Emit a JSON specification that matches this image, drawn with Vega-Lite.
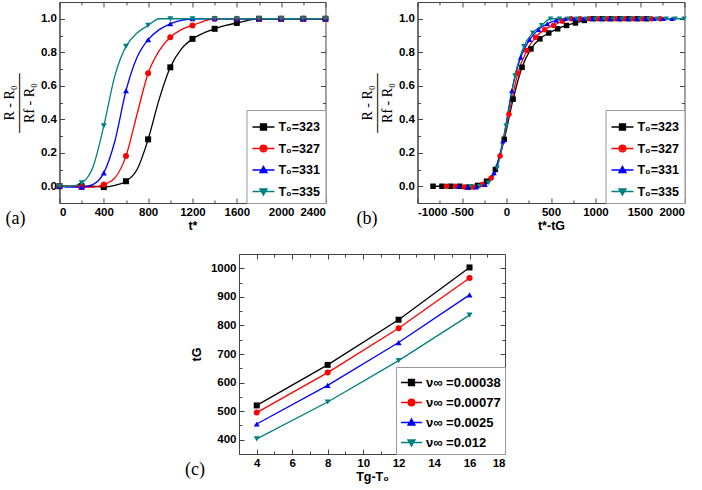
{
  "$schema": "https://vega.github.io/schema/vega-lite/v6.json",
  "padding": {"top": 1, "left": 1, "right": 0, "bottom": 0},
  "datasets": {
    "curves": [
      {"T0": 323, "t": 0, "r": 0, "tt": -825},
      {"T0": 323, "t": 100, "r": 0, "tt": -725},
      {"T0": 323, "t": 200, "r": 0, "tt": -625},
      {"T0": 323, "t": 300, "r": 0, "tt": -525},
      {"T0": 323, "t": 400, "r": -0.005, "tt": -425},
      {"T0": 323, "t": 500, "r": 0.005, "tt": -325},
      {"T0": 323, "t": 600, "r": 0.03, "tt": -225},
      {"T0": 323, "t": 700, "r": 0.1, "tt": -125},
      {"T0": 323, "t": 800, "r": 0.28, "tt": -25},
      {"T0": 323, "t": 900, "r": 0.52, "tt": 75},
      {"T0": 323, "t": 1000, "r": 0.71, "tt": 175},
      {"T0": 323, "t": 1100, "r": 0.82, "tt": 275},
      {"T0": 323, "t": 1200, "r": 0.88, "tt": 375},
      {"T0": 323, "t": 1300, "r": 0.915, "tt": 475},
      {"T0": 323, "t": 1400, "r": 0.94, "tt": 575},
      {"T0": 323, "t": 1500, "r": 0.96, "tt": 675},
      {"T0": 323, "t": 1600, "r": 0.975, "tt": 775},
      {"T0": 323, "t": 1700, "r": 0.99, "tt": 875},
      {"T0": 323, "t": 1800, "r": 1.0, "tt": 975},
      {"T0": 323, "t": 1900, "r": 1.0, "tt": 1075},
      {"T0": 323, "t": 2000, "r": 1.0, "tt": 1175},
      {"T0": 323, "t": 2100, "r": 1.0, "tt": 1275},
      {"T0": 323, "t": 2200, "r": 1.0, "tt": 1375},
      {"T0": 323, "t": 2300, "r": 1.0, "tt": 1475},
      {"T0": 323, "t": 2400, "r": 1.0, "tt": 1575},
      {"T0": 327, "t": 0, "r": 0, "tt": -672},
      {"T0": 327, "t": 100, "r": 0, "tt": -572},
      {"T0": 327, "t": 200, "r": -0.005, "tt": -472},
      {"T0": 327, "t": 300, "r": -0.005, "tt": -372},
      {"T0": 327, "t": 400, "r": 0.01, "tt": -272},
      {"T0": 327, "t": 500, "r": 0.05, "tt": -172},
      {"T0": 327, "t": 600, "r": 0.18, "tt": -72},
      {"T0": 327, "t": 700, "r": 0.43, "tt": 28},
      {"T0": 327, "t": 800, "r": 0.675, "tt": 128},
      {"T0": 327, "t": 900, "r": 0.81, "tt": 228},
      {"T0": 327, "t": 1000, "r": 0.89, "tt": 328},
      {"T0": 327, "t": 1100, "r": 0.935, "tt": 428},
      {"T0": 327, "t": 1200, "r": 0.96, "tt": 528},
      {"T0": 327, "t": 1300, "r": 0.985, "tt": 628},
      {"T0": 327, "t": 1400, "r": 1.0, "tt": 728},
      {"T0": 327, "t": 1500, "r": 1.0, "tt": 828},
      {"T0": 327, "t": 1600, "r": 1.0, "tt": 928},
      {"T0": 327, "t": 1700, "r": 1.0, "tt": 1028},
      {"T0": 327, "t": 1800, "r": 1.0, "tt": 1128},
      {"T0": 327, "t": 1900, "r": 1.0, "tt": 1228},
      {"T0": 327, "t": 2000, "r": 1.0, "tt": 1328},
      {"T0": 327, "t": 2100, "r": 1.0, "tt": 1428},
      {"T0": 327, "t": 2200, "r": 1.0, "tt": 1528},
      {"T0": 327, "t": 2300, "r": 1.0, "tt": 1628},
      {"T0": 327, "t": 2400, "r": 1.0, "tt": 1728},
      {"T0": 331, "t": 0, "r": 0, "tt": -540},
      {"T0": 331, "t": 100, "r": -0.005, "tt": -440},
      {"T0": 331, "t": 200, "r": -0.005, "tt": -340},
      {"T0": 331, "t": 300, "r": 0.01, "tt": -240},
      {"T0": 331, "t": 400, "r": 0.08, "tt": -140},
      {"T0": 331, "t": 500, "r": 0.27, "tt": -40},
      {"T0": 331, "t": 600, "r": 0.57, "tt": 60},
      {"T0": 331, "t": 700, "r": 0.77, "tt": 160},
      {"T0": 331, "t": 800, "r": 0.875, "tt": 260},
      {"T0": 331, "t": 900, "r": 0.935, "tt": 360},
      {"T0": 331, "t": 1000, "r": 0.97, "tt": 460},
      {"T0": 331, "t": 1100, "r": 0.99, "tt": 560},
      {"T0": 331, "t": 1200, "r": 1.0, "tt": 660},
      {"T0": 331, "t": 1300, "r": 1.0, "tt": 760},
      {"T0": 331, "t": 1400, "r": 1.0, "tt": 860},
      {"T0": 331, "t": 1500, "r": 1.0, "tt": 960},
      {"T0": 331, "t": 1600, "r": 1.0, "tt": 1060},
      {"T0": 331, "t": 1700, "r": 1.0, "tt": 1160},
      {"T0": 331, "t": 1800, "r": 1.0, "tt": 1260},
      {"T0": 331, "t": 1900, "r": 1.0, "tt": 1360},
      {"T0": 331, "t": 2000, "r": 1.0, "tt": 1460},
      {"T0": 331, "t": 2100, "r": 1.0, "tt": 1560},
      {"T0": 331, "t": 2200, "r": 1.0, "tt": 1660},
      {"T0": 331, "t": 2300, "r": 1.0, "tt": 1760},
      {"T0": 331, "t": 2400, "r": 1.0, "tt": 1860},
      {"T0": 335, "t": 0, "r": 0, "tt": -405},
      {"T0": 335, "t": 100, "r": 0, "tt": -305},
      {"T0": 335, "t": 200, "r": 0.02, "tt": -205},
      {"T0": 335, "t": 300, "r": 0.11, "tt": -105},
      {"T0": 335, "t": 400, "r": 0.36, "tt": -5},
      {"T0": 335, "t": 500, "r": 0.66, "tt": 95},
      {"T0": 335, "t": 600, "r": 0.835, "tt": 195},
      {"T0": 335, "t": 700, "r": 0.915, "tt": 295},
      {"T0": 335, "t": 800, "r": 0.96, "tt": 395},
      {"T0": 335, "t": 900, "r": 1.0, "tt": 495},
      {"T0": 335, "t": 1000, "r": 1.0, "tt": 595},
      {"T0": 335, "t": 1100, "r": 1.0, "tt": 695},
      {"T0": 335, "t": 1200, "r": 1.0, "tt": 795},
      {"T0": 335, "t": 1300, "r": 1.0, "tt": 895},
      {"T0": 335, "t": 1400, "r": 1.0, "tt": 995},
      {"T0": 335, "t": 1500, "r": 1.0, "tt": 1095},
      {"T0": 335, "t": 1600, "r": 1.0, "tt": 1195},
      {"T0": 335, "t": 1700, "r": 1.0, "tt": 1295},
      {"T0": 335, "t": 1800, "r": 1.0, "tt": 1395},
      {"T0": 335, "t": 1900, "r": 1.0, "tt": 1495},
      {"T0": 335, "t": 2000, "r": 1.0, "tt": 1595},
      {"T0": 335, "t": 2100, "r": 1.0, "tt": 1695},
      {"T0": 335, "t": 2200, "r": 1.0, "tt": 1795},
      {"T0": 335, "t": 2300, "r": 1.0, "tt": 1895},
      {"T0": 335, "t": 2400, "r": 1.0, "tt": 1995}
    ],
    "tg": [
      {"nu": "0.00038", "dT": 4, "tG": 520},
      {"nu": "0.00038", "dT": 8, "tG": 662},
      {"nu": "0.00038", "dT": 12, "tG": 820},
      {"nu": "0.00038", "dT": 16, "tG": 1003},
      {"nu": "0.00077", "dT": 4, "tG": 495},
      {"nu": "0.00077", "dT": 8, "tG": 635},
      {"nu": "0.00077", "dT": 12, "tG": 790},
      {"nu": "0.00077", "dT": 16, "tG": 966},
      {"nu": "0.0025", "dT": 4, "tG": 455},
      {"nu": "0.0025", "dT": 8, "tG": 590},
      {"nu": "0.0025", "dT": 12, "tG": 740},
      {"nu": "0.0025", "dT": 16, "tG": 907},
      {"nu": "0.012", "dT": 4, "tG": 403},
      {"nu": "0.012", "dT": 8, "tG": 532},
      {"nu": "0.012", "dT": 12, "tG": 677},
      {"nu": "0.012", "dT": 16, "tG": 836}
    ]
  },
  "center": true,
  "spacing": 20,
  "vconcat": [
    {
      "spacing": 18,
      "hconcat": [
        {
          "width": 266,
          "height": 201,
          "title": {"text": "(a)", "orient": "bottom", "anchor": "start", "frame": "group", "font": "Liberation Serif", "fontSize": 18, "fontWeight": "normal", "dx": -54, "dy": -26},
          "data": {"name": "curves"},
          "layer": [
            {
              "mark": {"type": "line", "interpolate": "monotone", "strokeWidth": 1.3},
              "encoding": {
                "x": {"field": "t", "type": "quantitative", "scale": {"domain": [0, 2400], "nice": false, "zero": false},
                  "axis": {"title": "t*", "values": [0, 200, 400, 600, 800, 1000, 1200, 1400, 1600, 1800, 2000, 2200, 2400], "labelExpr": "datum.value % 400 === 0 ? toString(datum.value) : ''", "tickSize": {"condition": {"test": "datum.value % 400 === 0", "value": -5}, "value": -3}, "titlePadding": 2}},
                "y": {"field": "r", "type": "quantitative", "scale": {"domain": [-0.1, 1.1], "nice": false, "zero": false},
                  "axis": {"title": ["R - R₀", "──────", "Rf - R₀"], "values": [0, 0.1, 0.2, 0.3, 0.4, 0.5, 0.6, 0.7, 0.8, 0.9, 1], "labelExpr": "round(datum.value*10) % 2 === 0 ? format(datum.value, '.1f') : ''", "tickSize": {"condition": {"test": "round(datum.value*10) % 2 === 0", "value": -5}, "value": -3}, "titleFont": "Liberation Serif", "titleFontWeight": "normal", "titleFontSize": 14, "titleLineHeight": 10, "titlePadding": 4}},
                "color": {"field": "T0", "type": "nominal", "scale": {"domain": [323, 327, 331, 335], "range": ["#000000", "#ff0000", "#0000ff", "#008080"]}, "legend": null}
              }
            },
            {
              "transform": [{"filter": "datum.t % 200 === 0"}],
              "mark": {"type": "point", "filled": true, "opacity": 1, "size": 36},
              "encoding": {
                "x": {"field": "t", "type": "quantitative", "axis": {"orient": "top", "title": null, "labels": false, "domain": false, "values": [0, 200, 400, 600, 800, 1000, 1200, 1400, 1600, 1800, 2000, 2200, 2400], "tickSize": {"condition": {"test": "datum.value % 400 === 0", "value": -5}, "value": -3}}},
                "y": {"field": "r", "type": "quantitative", "axis": {"orient": "right", "title": null, "labels": false, "domain": false, "values": [0, 0.1, 0.2, 0.3, 0.4, 0.5, 0.6, 0.7, 0.8, 0.9, 1], "tickSize": {"condition": {"test": "round(datum.value*10) % 2 === 0", "value": -5}, "value": -3}}},
                "color": {"field": "T0", "type": "nominal", "scale": {"domain": [323, 327, 331, 335], "range": ["#000000", "#ff0000", "#0000ff", "#008080"]}, "legend": null},
                "shape": {"field": "T0", "type": "nominal", "scale": {"domain": [323, 327, 331, 335], "range": ["square", "circle", "triangle-up", "triangle-down"]}, "legend": null}
              }
            },
            {
              "mark": {"type": "point", "filled": false, "opacity": 0, "size": 484},
              "encoding": {
                "x": {"field": "t", "type": "quantitative", "axis": null},
                "y": {"field": "r", "type": "quantitative", "axis": null},
                "color": {"field": "T0", "type": "nominal", "scale": {"domain": [323, 327, 331, 335], "range": ["#000000", "#ff0000", "#0000ff", "#008080"]}, "legend": {"title": null, "orient": "bottom-right", "offset": 0, "padding": 5, "rowPadding": 2.5, "labelFont": "Liberation Sans", "labelFontWeight": "bold", "labelFontSize": 12.5, "labelExpr": "'T₀=' + datum.label", "symbolSize": 484, "symbolStrokeWidth": 1.4, "labelOffset": 3, "strokeColor": "#999", "fillColor": "#ffffff"}},
                "shape": {"field": "T0", "type": "nominal", "scale": {"domain": [323, 327, 331, 335], "range": ["M-1,0H1M-0.27,-0.27H0.27V0.27H-0.27ZM-0.27,-0.14H0.27M-0.27,0.14H0.27", "M-1,0H1M0.3,0A0.3,0.3,0,1,1,-0.3,0A0.3,0.3,0,1,1,0.3,0ZM0.17,0A0.17,0.17,0,1,1,-0.17,0A0.17,0.17,0,1,1,0.17,0ZM0.05,0A0.05,0.05,0,1,1,-0.05,0A0.05,0.05,0,1,1,0.05,0Z", "M-1,0H1M0,-0.32L0.32,0.24L-0.32,0.24ZM-0.25,0.12H0.25M-0.11,-0.12H0.11M-0.06,-0.22H0.06", "M-1,0H1M0,0.32L0.32,-0.24L-0.32,-0.24ZM-0.25,-0.12H0.25M-0.11,0.12H0.11M-0.06,0.22H0.06"]}, "legend": {"title": null, "orient": "bottom-right", "offset": 0, "padding": 5, "rowPadding": 2.5, "labelFont": "Liberation Sans", "labelFontWeight": "bold", "labelFontSize": 12.5, "labelExpr": "'T₀=' + datum.label", "symbolSize": 484, "symbolStrokeWidth": 1.4, "labelOffset": 3, "strokeColor": "#999", "fillColor": "#ffffff"}}
              }
            }
          ],
          "resolve": {"scale": {"color": "independent", "shape": "independent"}, "axis": {"x": "independent", "y": "independent"}}
        },
        {
          "width": 267,
          "height": 201,
          "title": {"text": "(b)", "orient": "bottom", "anchor": "start", "frame": "group", "font": "Liberation Serif", "fontSize": 18, "fontWeight": "normal", "dx": -61, "dy": -26},
          "data": {"name": "curves"},
          "layer": [
            {
              "mark": {"type": "line", "interpolate": "monotone", "strokeWidth": 1.3},
              "encoding": {
                "x": {"field": "tt", "type": "quantitative", "scale": {"domain": [-1000, 2000], "nice": false, "zero": false},
                  "axis": {"title": "t*-tG", "values": [-1000, -750, -500, -250, 0, 250, 500, 750, 1000, 1250, 1500, 1750, 2000], "labelExpr": "datum.value % 500 === 0 ? toString(datum.value) : ''", "tickSize": {"condition": {"test": "datum.value % 500 === 0", "value": -5}, "value": -3}, "titlePadding": 2}},
                "y": {"field": "r", "type": "quantitative", "scale": {"domain": [-0.1, 1.1], "nice": false, "zero": false},
                  "axis": {"title": ["R - R₀", "──────", "Rf - R₀"], "values": [0, 0.1, 0.2, 0.3, 0.4, 0.5, 0.6, 0.7, 0.8, 0.9, 1], "labelExpr": "round(datum.value*10) % 2 === 0 ? format(datum.value, '.1f') : ''", "tickSize": {"condition": {"test": "round(datum.value*10) % 2 === 0", "value": -5}, "value": -3}, "titleFont": "Liberation Serif", "titleFontWeight": "normal", "titleFontSize": 14, "titleLineHeight": 10, "titlePadding": 4}},
                "color": {"field": "T0", "type": "nominal", "scale": {"domain": [323, 327, 331, 335], "range": ["#000000", "#ff0000", "#0000ff", "#008080"]}, "legend": null}
              }
            },
            {
              "mark": {"type": "point", "filled": true, "opacity": 1, "size": 30},
              "encoding": {
                "x": {"field": "tt", "type": "quantitative", "axis": {"orient": "top", "title": null, "labels": false, "domain": false, "values": [-1000, -750, -500, -250, 0, 250, 500, 750, 1000, 1250, 1500, 1750, 2000], "tickSize": {"condition": {"test": "datum.value % 500 === 0", "value": -5}, "value": -3}}},
                "y": {"field": "r", "type": "quantitative", "axis": {"orient": "right", "title": null, "labels": false, "domain": false, "values": [0, 0.1, 0.2, 0.3, 0.4, 0.5, 0.6, 0.7, 0.8, 0.9, 1], "tickSize": {"condition": {"test": "round(datum.value*10) % 2 === 0", "value": -5}, "value": -3}}},
                "color": {"field": "T0", "type": "nominal", "scale": {"domain": [323, 327, 331, 335], "range": ["#000000", "#ff0000", "#0000ff", "#008080"]}, "legend": null},
                "shape": {"field": "T0", "type": "nominal", "scale": {"domain": [323, 327, 331, 335], "range": ["square", "circle", "triangle-up", "triangle-down"]}, "legend": null}
              }
            },
            {
              "mark": {"type": "point", "filled": false, "opacity": 0, "size": 484},
              "encoding": {
                "x": {"field": "tt", "type": "quantitative", "axis": null},
                "y": {"field": "r", "type": "quantitative", "axis": null},
                "color": {"field": "T0", "type": "nominal", "scale": {"domain": [323, 327, 331, 335], "range": ["#000000", "#ff0000", "#0000ff", "#008080"]}, "legend": {"title": null, "orient": "bottom-right", "offset": 0, "padding": 5, "rowPadding": 2.5, "labelFont": "Liberation Sans", "labelFontWeight": "bold", "labelFontSize": 12.5, "labelExpr": "'T₀=' + datum.label", "symbolSize": 484, "symbolStrokeWidth": 1.4, "labelOffset": 3, "strokeColor": "#999", "fillColor": "#ffffff"}},
                "shape": {"field": "T0", "type": "nominal", "scale": {"domain": [323, 327, 331, 335], "range": ["M-1,0H1M-0.27,-0.27H0.27V0.27H-0.27ZM-0.27,-0.14H0.27M-0.27,0.14H0.27", "M-1,0H1M0.3,0A0.3,0.3,0,1,1,-0.3,0A0.3,0.3,0,1,1,0.3,0ZM0.17,0A0.17,0.17,0,1,1,-0.17,0A0.17,0.17,0,1,1,0.17,0ZM0.05,0A0.05,0.05,0,1,1,-0.05,0A0.05,0.05,0,1,1,0.05,0Z", "M-1,0H1M0,-0.32L0.32,0.24L-0.32,0.24ZM-0.25,0.12H0.25M-0.11,-0.12H0.11M-0.06,-0.22H0.06", "M-1,0H1M0,0.32L0.32,-0.24L-0.32,-0.24ZM-0.25,-0.12H0.25M-0.11,0.12H0.11M-0.06,0.22H0.06"]}, "legend": {"title": null, "orient": "bottom-right", "offset": 0, "padding": 5, "rowPadding": 2.5, "labelFont": "Liberation Sans", "labelFontWeight": "bold", "labelFontSize": 12.5, "labelExpr": "'T₀=' + datum.label", "symbolSize": 484, "symbolStrokeWidth": 1.4, "labelOffset": 3, "strokeColor": "#999", "fillColor": "#ffffff"}}
              }
            }
          ],
          "resolve": {"scale": {"color": "independent", "shape": "independent"}, "axis": {"x": "independent", "y": "independent"}}
        }
      ]
    },
    {
      "width": 266,
      "height": 200,
      "title": {"text": "(c)", "orient": "bottom", "anchor": "start", "frame": "group", "font": "Liberation Serif", "fontSize": 18, "fontWeight": "normal", "dx": -54, "dy": -26},
      "data": {"name": "tg"},
      "layer": [
        {
          "mark": {"type": "line", "strokeWidth": 1.3},
          "encoding": {
            "x": {"field": "dT", "type": "quantitative", "scale": {"domain": [3, 18], "nice": false, "zero": false},
              "axis": {"title": "Tg-T₀", "values": [4, 5, 6, 7, 8, 9, 10, 11, 12, 13, 14, 15, 16, 17, 18], "labelExpr": "datum.value % 2 === 0 ? toString(datum.value) : ''", "tickSize": {"condition": {"test": "datum.value % 2 === 0", "value": -5}, "value": -3}, "titlePadding": 2}},
            "y": {"field": "tG", "type": "quantitative", "scale": {"domain": [350, 1050], "nice": false, "zero": false},
              "axis": {"title": "tG", "values": [400, 450, 500, 550, 600, 650, 700, 750, 800, 850, 900, 950, 1000], "labelExpr": "datum.value % 100 === 0 ? toString(datum.value) : ''", "tickSize": {"condition": {"test": "datum.value % 100 === 0", "value": -5}, "value": -3}, "titlePadding": 7}},
            "color": {"field": "nu", "type": "nominal", "scale": {"domain": ["0.00038", "0.00077", "0.0025", "0.012"], "range": ["#000000", "#ff0000", "#0000ff", "#008080"]}, "legend": null}
          }
        },
        {
          "mark": {"type": "point", "filled": true, "opacity": 1, "size": 36},
          "encoding": {
            "x": {"field": "dT", "type": "quantitative", "axis": {"orient": "top", "title": null, "labels": false, "domain": false, "values": [4, 5, 6, 7, 8, 9, 10, 11, 12, 13, 14, 15, 16, 17, 18], "tickSize": {"condition": {"test": "datum.value % 2 === 0", "value": -5}, "value": -3}}},
            "y": {"field": "tG", "type": "quantitative", "axis": {"orient": "right", "title": " ", "titlePadding": -3, "labels": false, "domain": false, "values": [400, 450, 500, 550, 600, 650, 700, 750, 800, 850, 900, 950, 1000], "tickSize": {"condition": {"test": "datum.value % 100 === 0", "value": -5}, "value": -3}}},
            "color": {"field": "nu", "type": "nominal", "scale": {"domain": ["0.00038", "0.00077", "0.0025", "0.012"], "range": ["#000000", "#ff0000", "#0000ff", "#008080"]}, "legend": null},
            "shape": {"field": "nu", "type": "nominal", "scale": {"domain": ["0.00038", "0.00077", "0.0025", "0.012"], "range": ["square", "circle", "triangle-up", "triangle-down"]}, "legend": null}
          }
        },
        {
          "mark": {"type": "point", "filled": false, "opacity": 0, "size": 441},
          "encoding": {
            "x": {"field": "dT", "type": "quantitative", "axis": null},
            "y": {"field": "tG", "type": "quantitative", "axis": null},
            "color": {"field": "nu", "type": "nominal", "scale": {"domain": ["0.00038", "0.00077", "0.0025", "0.012"], "range": ["#000000", "#ff0000", "#0000ff", "#008080"]}, "legend": {"title": null, "orient": "bottom-right", "offset": 0, "padding": 4, "rowPadding": 1, "labelFont": "Liberation Sans", "labelFontWeight": "bold", "labelFontSize": 13, "labelExpr": "'ν∞ =' + datum.label", "symbolSize": 441, "symbolStrokeWidth": 1.4, "labelOffset": 3, "strokeColor": "#999", "fillColor": "#ffffff"}},
            "shape": {"field": "nu", "type": "nominal", "scale": {"domain": ["0.00038", "0.00077", "0.0025", "0.012"], "range": ["M-1,0H1M-0.28,-0.28H0.28V0.28H-0.28ZM-0.28,-0.14H0.28M-0.28,0.14H0.28", "M-1,0H1M0.31,0A0.31,0.31,0,1,1,-0.31,0A0.31,0.31,0,1,1,0.31,0ZM0.18,0A0.18,0.18,0,1,1,-0.18,0A0.18,0.18,0,1,1,0.18,0ZM0.05,0A0.05,0.05,0,1,1,-0.05,0A0.05,0.05,0,1,1,0.05,0Z", "M-1,0H1M0,-0.33L0.33,0.25L-0.33,0.25ZM-0.26,0.12H0.26M-0.12,-0.12H0.12M-0.06,-0.22H0.06", "M-1,0H1M0,0.33L0.33,-0.25L-0.33,-0.25ZM-0.26,-0.12H0.26M-0.12,0.12H0.12M-0.06,0.22H0.06"]}, "legend": {"title": null, "orient": "bottom-right", "offset": 0, "padding": 4, "rowPadding": 1, "labelFont": "Liberation Sans", "labelFontWeight": "bold", "labelFontSize": 13, "labelExpr": "'ν∞ =' + datum.label", "symbolSize": 441, "symbolStrokeWidth": 1.4, "labelOffset": 3, "strokeColor": "#999", "fillColor": "#ffffff"}}
          }
        }
      ],
      "resolve": {"scale": {"color": "independent", "shape": "independent"}, "axis": {"x": "independent", "y": "independent"}}
    }
  ],
  "config": {
    "view": {"stroke": "#444", "strokeWidth": 1},
    "axis": {"labelFont": "Liberation Sans", "labelFontSize": 11.5, "labelFontWeight": "bold", "labelColor": "#000", "titleFont": "Liberation Sans", "titleFontSize": 12.5, "titleFontWeight": "bold", "titleColor": "#000", "domainColor": "#444", "tickColor": "#444", "grid": false, "labelPadding": 8}
  }
}
